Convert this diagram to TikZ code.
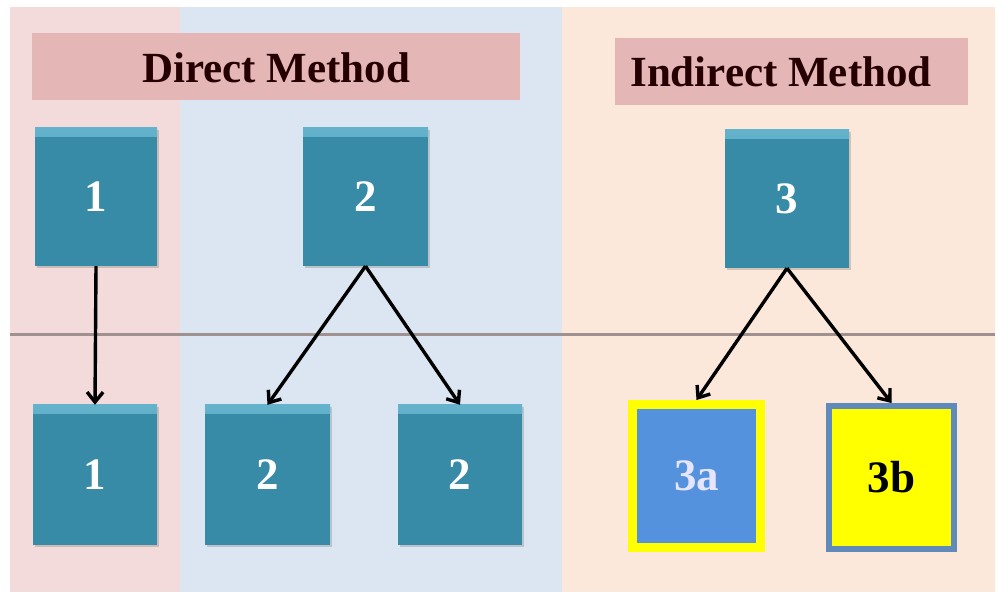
\documentclass[tikz,border=0pt]{standalone}
\usepackage{fontspec}
\setmainfont{Liberation Serif}
\usetikzlibrary{arrows.meta,shadows}
\definecolor{bgpink}{RGB}{242,219,218}
\definecolor{bgblue}{RGB}{220,230,242}
\definecolor{bgpeach}{RGB}{252,232,218}
\definecolor{hdr}{RGB}{229,182,182}
\definecolor{tealbox}{RGB}{56,139,166}
\definecolor{teallight}{RGB}{100,178,204}
\definecolor{sepline}{RGB}{160,145,145}
\definecolor{blue3a}{RGB}{85,146,222}
\definecolor{yel}{RGB}{255,255,0}
\definecolor{border3b}{RGB}{95,138,186}
\begin{document}
\begin{tikzpicture}[x=1pt,y=-1pt,
  bevel/.style={path picture={\shade[top color=teallight, bottom color=tealbox, shading angle=0] ([yshift=-9pt]path picture bounding box.north west) rectangle (path picture bounding box.north east);}},
  tbox/.style={draw=none, fill=tealbox, inner sep=0pt, minimum width=124pt, minimum height=138pt,
    text=white, font=\bfseries\fontsize{45}{45}\selectfont, bevel,
    drop shadow={shadow xshift=1.5pt, shadow yshift=-2pt, opacity=0.35}},
  hdrbox/.style={draw=none, fill=hdr, inner sep=0pt},
  hdrtext/.style={inner sep=0pt, font=\bfseries\fontsize{43}{43}\selectfont, text=black!85!red},
  arr/.style={-{Straight Barb[length=10pt,width=16pt,line width=3.4pt]}, line width=3.4pt, black}
]
\useasboundingbox (0,0) rectangle (999,601);
% backgrounds
\fill[white] (0,0) rectangle (999,601);
\fill[bgpink] (10,7) rectangle (180,592);
\fill[bgblue] (180,7) rectangle (562,592);
\fill[bgpeach] (562,7) rectangle (995,592);
\draw[sepline, line width=3pt] (10,335) -- (995,335);
% headers
\node[hdrbox, minimum width=488pt, minimum height=67pt] (hd) at (276,66.5) {};
\node[hdrtext] (hdt) at (276,68) {Direct Method};
\node[hdrbox, minimum width=353pt, minimum height=67pt] (hi) at (791.5,71.5) {};
\node[hdrtext] (hit) at (781,72) {Indirect Method};
% top boxes
\node[tbox, minimum width=122pt] (b1) at (96,197) {1};
\node[tbox, minimum width=125pt] (b2) at (365.5,197) {2};
\node[tbox] (b3) at (787,199) {3};
% bottom boxes
\node[tbox, minimum height=140pt] (c1) at (95,475) {1};
\node[tbox, minimum width=125pt, minimum height=140pt] (c2a) at (267.5,475) {2};
\node[tbox, minimum height=140pt] (c2b) at (460,475) {2};
\node[draw=yel, line width=9pt, fill=blue3a, inner sep=0pt, minimum width=128pt, minimum height=143pt,
  text=white!90!blue, font=\bfseries\fontsize{45}{45}\selectfont,
  drop shadow={shadow xshift=1.5pt, shadow yshift=-2pt, opacity=0.3}] (c3a) at (696.5,476) {3a};
\node[draw=border3b, line width=6pt, fill=yel, inner sep=0pt, minimum width=125pt, minimum height=143pt,
  text=black, font=\bfseries\fontsize{45}{45}\selectfont,
  drop shadow={shadow xshift=1.5pt, shadow yshift=-2pt, opacity=0.3}] (c3b) at (891.5,477.5) {3b};
% arrows
\draw[arr] (b1.south) -- (c1.north);
\draw[arr] (b2.south) -- (c2a.north);
\draw[arr] (b2.south) -- (c2b.north);
\draw[arr] (b3.south) -- (c3a.north);
\draw[arr] (b3.south) -- (c3b.north);
\end{tikzpicture}
\end{document}
